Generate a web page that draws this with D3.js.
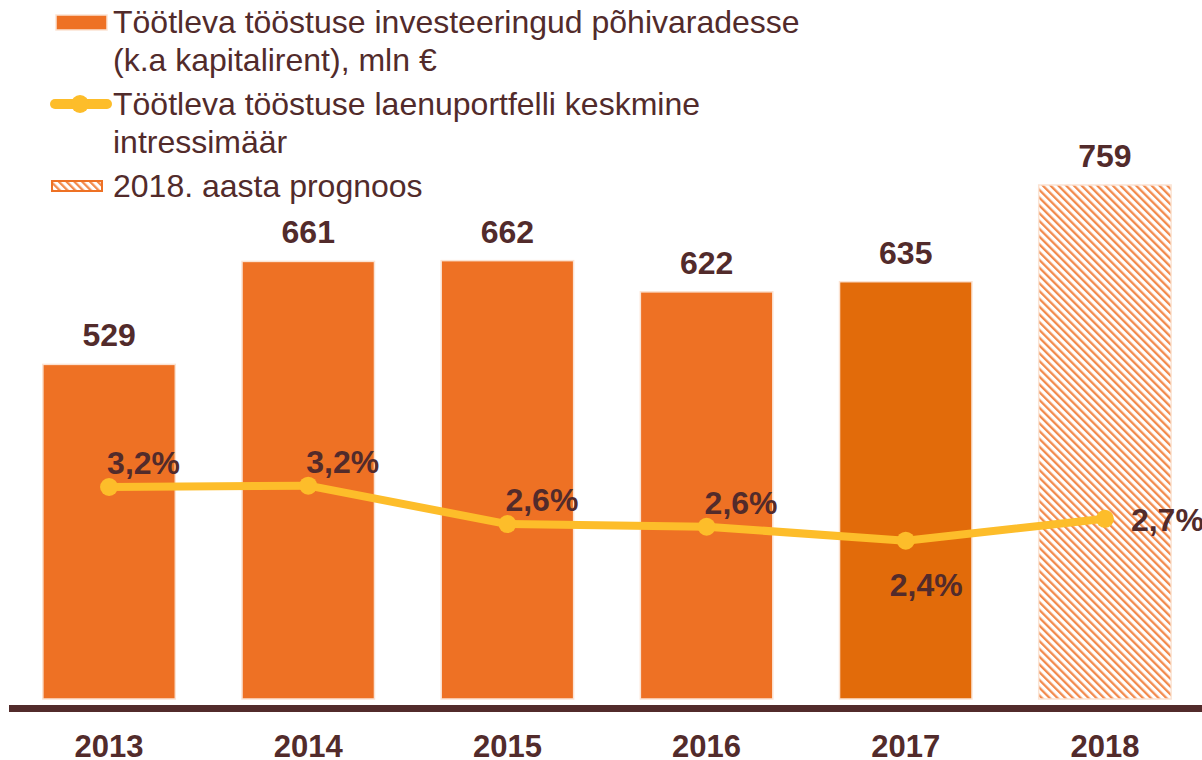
<!DOCTYPE html>
<html><head><meta charset="utf-8">
<script src="https://cdn.jsdelivr.net/npm/d3@7"></script>
<style>body{margin:0;background:#fff}svg{display:block}</style>
</head><body>
<svg id="c" width="1202" height="760"></svg>
<script>
const years = ["2013","2014","2015","2016","2017","2018"];
const investments = [529, 661, 662, 622, 635, 759];
const rates = [3.20, 3.22, 2.64, 2.60, 2.39, 2.72];
const rateLabelPos = ["above","above","above","above","below","right"];
const legendLabels = [
  ["Töötleva tööstuse investeeringud põhivaradesse", "(k.a kapitalirent), mln €"],
  ["Töötleva tööstuse laenuportfelli keskmine", "intressimäär"],
  ["2018. aasta prognoos"]
];

const TEXT = "#522b2b", BAR = "#ee7124", BAR17 = "#e26b0a", LINE = "#fdbd2a", EDGE = "#fbe3d3";
const svg = d3.select("#c");
const font = "'Liberation Sans', Arial, sans-serif";

const defs = svg.append("defs");
const pat = defs.append("pattern").attr("id","hatch").attr("patternUnits","userSpaceOnUse")
  .attr("width",5.5).attr("height",5.5).attr("patternTransform","rotate(-45)");
pat.append("rect").attr("width",5.5).attr("height",5.5).attr("fill","#fff");
pat.append("rect").attr("x",0).attr("y",0).attr("width",2.3).attr("height",5.5).attr("fill","#f28a4c");

const x = d3.scaleBand().domain(years).range([10, 1204]).paddingInner(0.335).paddingOuter(0.165);
const yL = d3.scaleLinear().domain([100, 800]).range([699, 153]);
const yR = d3.scaleLinear().domain([0, 4]).range([699, 434]);

// bars
svg.append("g").selectAll("rect").data(years).join("rect")
  .attr("x", d => x(d)).attr("width", x.bandwidth())
  .attr("y", (d,i) => yL(investments[i])).attr("height", (d,i) => yL(100) - yL(investments[i]))
  .attr("fill", (d,i) => i === 5 ? "url(#hatch)" : (i === 4 ? BAR17 : BAR))
  .attr("stroke", EDGE).attr("stroke-width", 1.5);

// bar labels
svg.append("g").selectAll("text").data(years).join("text")
  .attr("x", d => x(d) + x.bandwidth()/2).attr("y", (d,i) => yL(investments[i]) - 18)
  .attr("text-anchor","middle").attr("font-family",font).attr("font-weight","bold")
  .attr("font-size",32).attr("fill",TEXT).text((d,i) => investments[i]);

// axis
svg.append("line").attr("x1",9).attr("x2",1202).attr("y1",708.5).attr("y2",708.5)
  .attr("stroke",TEXT).attr("stroke-width",7);
const axis = svg.append("g").attr("transform","translate(0,708)")
  .call(d3.axisBottom(x).tickSize(0).tickPadding(0));
axis.select(".domain").remove();
axis.attr("font-size",null).attr("font-family",null);
axis.selectAll("text").attr("font-family",font).attr("font-weight","bold").attr("font-size",31)
  .attr("fill",TEXT).attr("dy",null).attr("y",48.5);

// line
const cx = d => x(d) + x.bandwidth()/2;
const line = d3.line().x((d,i) => cx(years[i])).y(d => yR(d));
svg.append("path").datum(rates).attr("d", line).attr("fill","none")
  .attr("stroke",LINE).attr("stroke-width",8).attr("stroke-linejoin","round");
svg.append("g").selectAll("circle").data(rates).join("circle")
  .attr("cx",(d,i) => cx(years[i])).attr("cy", d => yR(d)).attr("r",9).attr("fill",LINE);

// rate labels
const fmt = v => d3.format(".1f")(v).replace(".", ",") + "%";
svg.append("g").selectAll("text").data(rates).join("text")
  .attr("x",(d,i) => {
    const p = rateLabelPos[i], c = cx(years[i]);
    return p === "right" ? c + 26 : p === "below" ? c - 16 : c - 2;
  })
  .attr("y",(d,i) => {
    const p = rateLabelPos[i], c = yR(d);
    return p === "right" ? c + 12 : p === "below" ? c + 55 : c - 13;
  })
  .attr("font-family",font).attr("font-weight","bold").attr("font-size",32)
  .attr("fill",TEXT).text(d => fmt(d));

// legend
const lg = svg.append("g");
lg.append("rect").attr("x",56).attr("y",15).attr("width",51).attr("height",15)
  .attr("fill",BAR).attr("stroke",EDGE).attr("stroke-width",1.5);
lg.append("line").attr("x1",55).attr("x2",107).attr("y1",104).attr("y2",104)
  .attr("stroke",LINE).attr("stroke-width",10).attr("stroke-linecap","round");
lg.append("circle").attr("cx",80).attr("cy",104).attr("r",9).attr("fill",LINE);
lg.append("rect").attr("x",52).attr("y",181).attr("width",50).attr("height",10)
  .attr("fill","url(#hatch)").attr("stroke","#ee7124").attr("stroke-width",2);
const legendY = [33, 115, 197];
legendLabels.forEach((lines, k) => {
  lines.forEach((t, j) => {
    lg.append("text").attr("x",113).attr("y",legendY[k] + j*38)
      .attr("font-family",font).attr("font-size",32).attr("fill",TEXT).text(t);
  });
});
</script>
</body></html>
